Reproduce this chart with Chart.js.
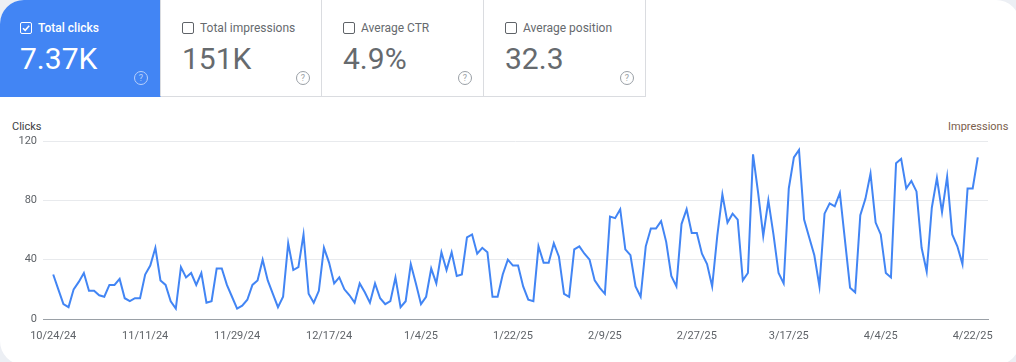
<!DOCTYPE html>
<html>
<head>
<meta charset="utf-8">
<script src="https://cdn.jsdelivr.net/npm/chart.js@4"></script>
<style>
  html, body { margin: 0; padding: 0; }
  body { width: 1016px; height: 362px; overflow: hidden; background: #eceff4; font-family: Roboto, Arial, sans-serif; }
  #panel { position: absolute; left: 0; top: 0; width: 1020px; height: 365px; background: #fff; border-radius: 24px; overflow: hidden; }
  .card { position: absolute; top: 0; height: 97px; box-sizing: border-box; border-right: 1px solid #dadce0; border-bottom: 1px solid #dadce0; background: #fff; color: #666a6e; }
  .card.on { background: #4285f4; color: #fff; border-bottom-color: #4285f4; }
  .card .lab { position: absolute; top: 21px; font-size: 12px; display: flex; align-items: center; white-space: nowrap; }
  .card .lab .box { width: 10px; height: 10px; border: 1.5px solid #5f6368; border-radius: 2px; margin-right: 6px; position: relative; }
  .card.on .lab .box { border-color: #fff; }
  .card.on .lab { font-weight: 500; }
  .card .lab .box svg { position: absolute; left: 0; top: 0; }
  .card .num { position: absolute; top: 41px; font-size: 30px; }
  .card .help { position: absolute; top: 71px; width: 12px; height: 12px; border: 1px solid #9aa0a6; color: #9aa0a6; border-radius: 50%; font-size: 9px; line-height: 12px; text-align: center; }
  .card.on .help { border-color: #b9d0fb; color: #b9d0fb; }
  #clicksLab { position: absolute; left: 12px; top: 120px; font-size: 11px; color: #3c4043; }
  #imprLab { position: absolute; left: 948px; top: 120px; font-size: 11px; color: #7a5e4c; }
  #wrap { position: absolute; left: 0; top: 100px; width: 1016px; height: 262px; }
</style>
</head>
<body>
<div id="panel">
  <div class="card on" style="left:0;width:161px;">
    <div class="lab" style="left:20px;"><span class="box"><svg width="10" height="10" viewBox="0 0 10 10"><path d="M2 5.2 L4.2 7.3 L8.2 2.8" fill="none" stroke="#fff" stroke-width="1.5"/></svg></span>Total clicks</div>
    <div class="num" style="left:20px;">7.37K</div>
    <div class="help" style="left:134px;">?</div>
  </div>
  <div class="card" style="left:161px;width:161px;">
    <div class="lab" style="left:21px;"><span class="box"></span>Total impressions</div>
    <div class="num" style="left:21px;">151K</div>
    <div class="help" style="left:135px;">?</div>
  </div>
  <div class="card" style="left:322px;width:162px;">
    <div class="lab" style="left:21px;"><span class="box"></span>Average CTR</div>
    <div class="num" style="left:21px;">4.9%</div>
    <div class="help" style="left:136px;">?</div>
  </div>
  <div class="card" style="left:484px;width:162px;">
    <div class="lab" style="left:21px;"><span class="box"></span>Average position</div>
    <div class="num" style="left:21px;">32.3</div>
    <div class="help" style="left:136px;">?</div>
  </div>
  <div id="clicksLab">Clicks</div>
  <div id="imprLab">Impressions</div>
  <div id="wrap"><canvas id="clickChart"></canvas></div>
</div>
<script>
// tick labels on the date axis, one every 18 days
const dateTicks = ["10/24/24","11/11/24","11/29/24","12/17/24","1/4/25","1/22/25","2/9/25","2/27/25","3/17/25","4/4/25","4/22/25"];
const tickStep = 18;

// daily clicks, 10/24/24 .. 4/23/25
const clicks = [
  30, 20, 10, 8, 20, 25, 31, 19, 19, 16,
  15, 23, 23, 27, 14, 12, 14, 14, 30, 36,
  48, 26, 23, 12, 7, 35, 28, 31, 23, 31,
  11, 12, 34, 34, 23, 15, 7, 9, 13, 23,
  26, 40, 26, 17, 8, 15, 51, 33, 35, 57,
  17, 11, 19, 48, 38, 24, 28, 20, 16, 11,
  24, 18, 11, 24, 14, 10, 12, 28, 8, 12,
  37, 24, 10, 15, 34, 24, 45, 33, 45, 29,
  30, 55, 57, 44, 48, 45, 15, 15, 30, 40,
  36, 36, 22, 13, 12, 49, 38, 38, 51, 42,
  17, 15, 47, 49, 44, 40, 26, 21, 17, 69,
  68, 74, 47, 43, 22, 15, 49, 61, 61, 66,
  52, 29, 22, 64, 74, 58, 58, 44, 37, 22,
  56, 84, 65, 71, 67, 26, 31, 111, 85, 56,
  80, 57, 31, 24, 88, 109, 114, 67, 55, 43,
  22, 71, 78, 76, 85, 53, 21, 18, 70, 81,
  98, 65, 57, 31, 28, 105, 108, 88, 93, 86,
  48, 32, 75, 95, 72, 96, 57, 49, 37, 88,
  88, 109
];

const yTicks = [0, 40, 80, 120];

const points = clicks.map((v, i) => ({ x: i, y: v }));

const ctx = document.getElementById("clickChart").getContext("2d");
const chart = new Chart(ctx, {
  type: 'line',
  data: {
    datasets: [{
      label: 'Clicks',
      data: points,
      borderColor: '#4285f4',
      borderWidth: 2,
      pointRadius: 0,
      fill: false,
      tension: 0
    }]
  },
  options: {
    responsive: true,
    maintainAspectRatio: false,
    animation: false,
    layout: { padding: { left: 0, right: 28, top: 41, bottom: 0 } },
    plugins: { legend: { display: false }, tooltip: { enabled: false } },
    scales: {
      x: {
        type: 'linear',
        min: -2,
        max: 183,
        afterBuildTicks: s => { s.ticks = dateTicks.map((d, i) => ({ value: i * tickStep })); },
        afterFit: s => { s.height = 43; },
        grid: { display: false, drawTicks: false },
        border: { display: true, color: '#9aa0a6', width: 1 },
        ticks: {
          autoSkip: false,
          maxRotation: 0,
          padding: 11,
          color: '#5f6368',
          font: { family: 'Roboto', size: 11 },
          callback: (v, i) => dateTicks[i]
        }
      },
      y: {
        min: 0,
        max: 120,
        afterBuildTicks: s => { s.ticks = yTicks.map(v => ({ value: v })); },
        afterFit: s => { s.width = 43; },
        grid: { color: '#e8eaed', drawTicks: false },
        border: { display: false },
        ticks: {
          padding: 6,
          color: '#5f6368',
          font: { family: 'Roboto', size: 11 }
        }
      }
    }
  }
});
</script>
</body>
</html>
